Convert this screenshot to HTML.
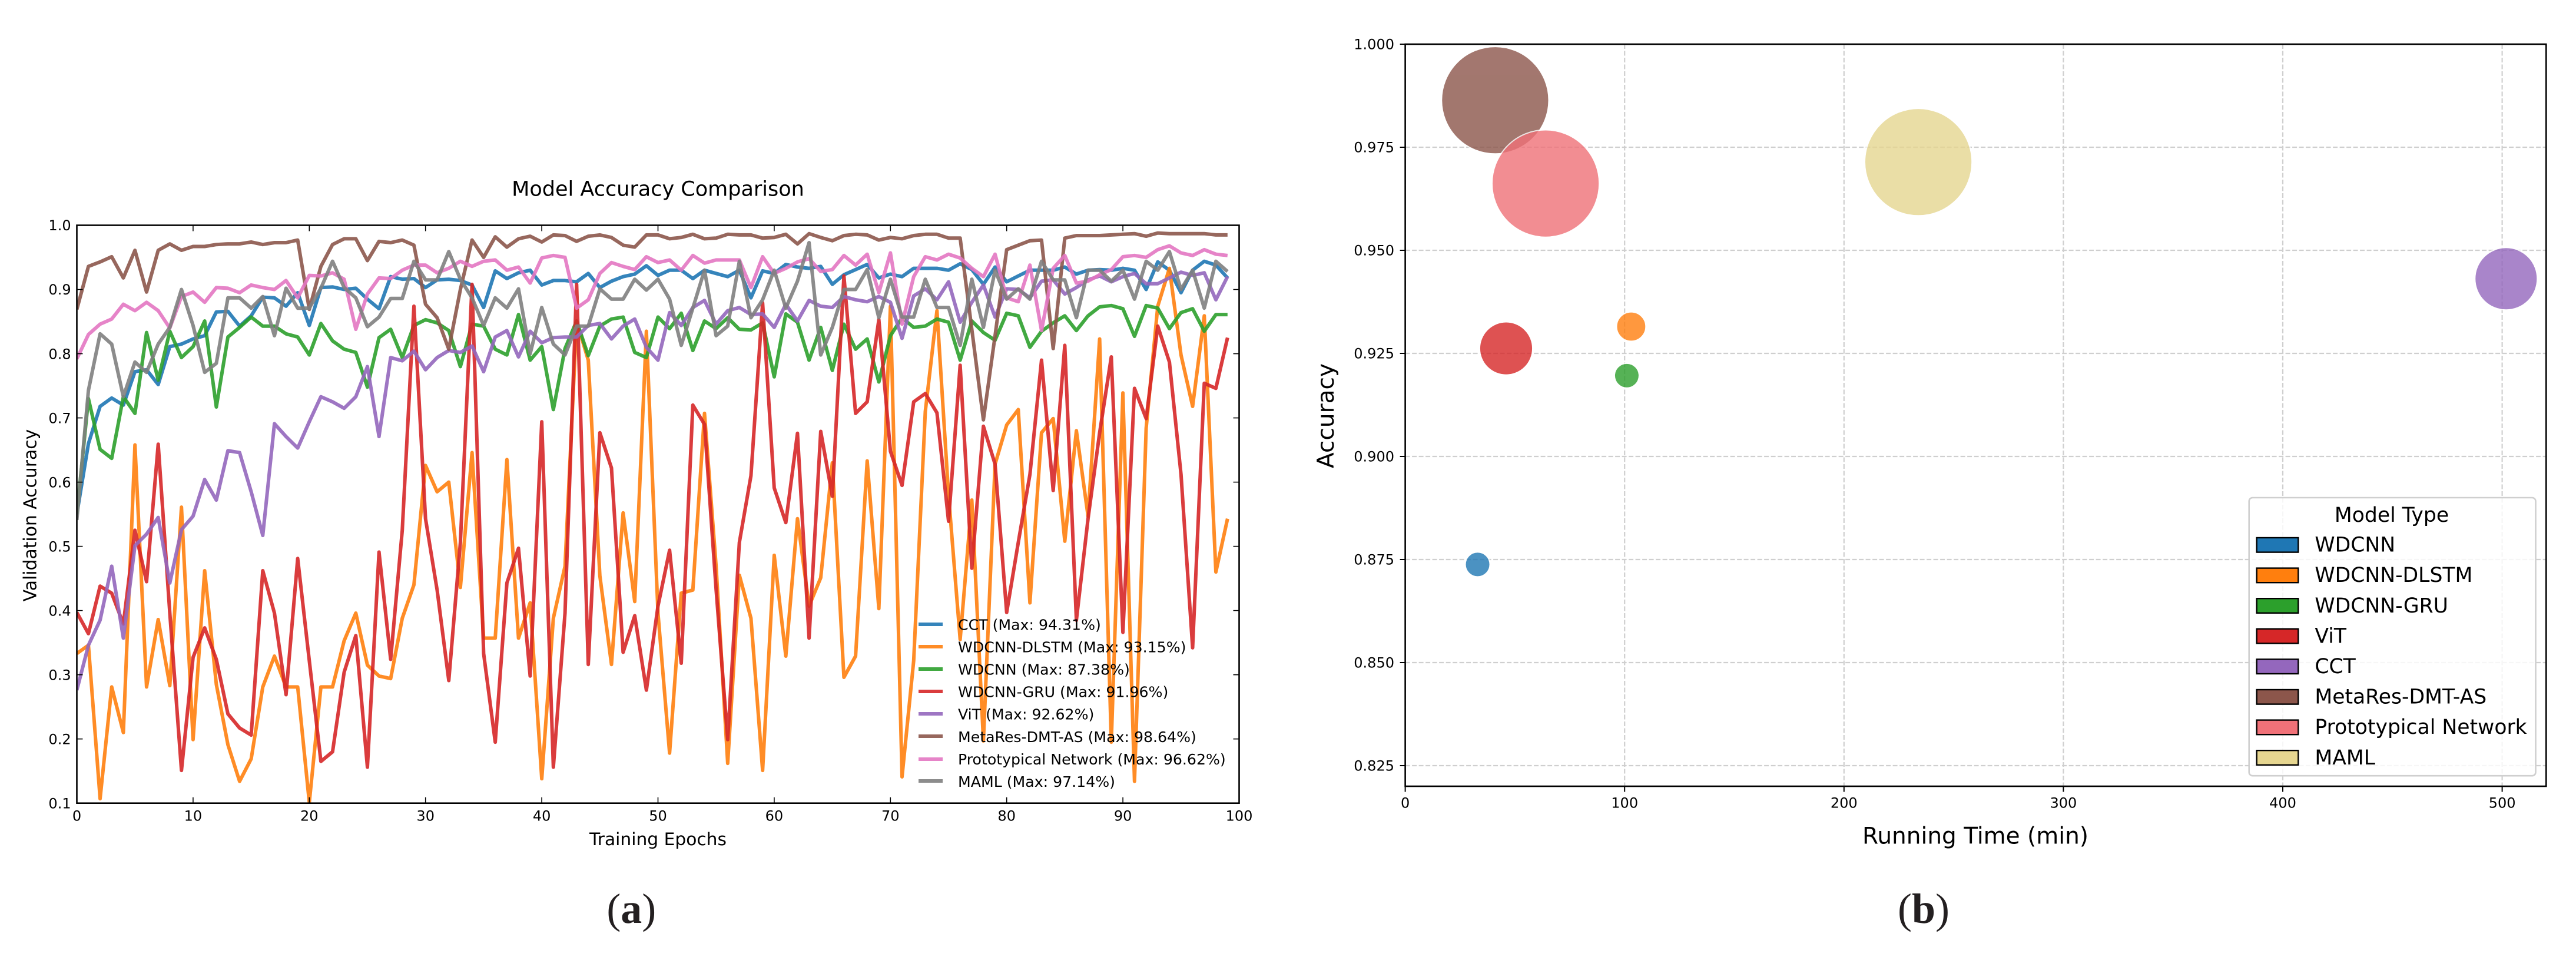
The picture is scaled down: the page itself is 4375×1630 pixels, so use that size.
<!DOCTYPE html>
<html lang="en">
<head>
<meta charset="utf-8">
<title>Model Accuracy Comparison and Running Time</title>
<style>
html,body{margin:0;padding:0;background:#fff;}
svg{display:block;font-family:"DejaVu Sans","Liberation Sans",sans-serif;}
</style>
</head>
<body>
<svg id="fig" xmlns="http://www.w3.org/2000/svg" width="4375" height="1630" viewBox="0 0 4375 1630">
  <rect x="0" y="0" width="4375" height="1630" fill="#fff"/>
  <defs>
    <clipPath id="clipL"><rect x="130.5" y="382.5" width="1974" height="981.2"/></clipPath>
    <clipPath id="clipR"><rect x="2386.6" y="75" width="1937.7" height="1260"/></clipPath>
  </defs>

  <!-- Panel A -->
  <g id="panelA">
    <g id="linesL" clip-path="url(#clipL)"></g>
    <g id="ticksL"></g>
    <rect x="130.5" y="382.5" width="1974" height="981.2" fill="none" stroke="#000" stroke-width="2.6"/>
    <text x="1117.5" y="332.5" font-size="35" text-anchor="middle">Model Accuracy Comparison</text>
    <text x="1117.5" y="1435" font-size="29.7" text-anchor="middle">Training Epochs</text>
    <text transform="translate(61.5,875) rotate(-90)" font-size="29.8" text-anchor="middle">Validation Accuracy</text>
    <g font-size="25.2">
      <g><line x1="1560" x2="1601" y1="1060" y2="1060" stroke="#1f77b4" stroke-opacity=".9" stroke-width="6"/><text x="1627" y="1069.3">CCT (Max: 94.31%)</text></g>
      <g><line x1="1560" x2="1601" y1="1098" y2="1098" stroke="#ff7f0e" stroke-opacity=".9" stroke-width="6"/><text x="1627" y="1107.4">WDCNN-DLSTM (Max: 93.15%)</text></g>
      <g><line x1="1560" x2="1601" y1="1136" y2="1136" stroke="#2ca02c" stroke-opacity=".9" stroke-width="6"/><text x="1627" y="1145.5">WDCNN (Max: 87.38%)</text></g>
      <g><line x1="1560" x2="1601" y1="1174" y2="1174" stroke="#d62728" stroke-opacity=".9" stroke-width="6"/><text x="1627" y="1183.6">WDCNN-GRU (Max: 91.96%)</text></g>
      <g><line x1="1560" x2="1601" y1="1212" y2="1212" stroke="#9467bd" stroke-opacity=".9" stroke-width="6"/><text x="1627" y="1221.7">ViT (Max: 92.62%)</text></g>
      <g><line x1="1560" x2="1601" y1="1250" y2="1250" stroke="#8c564b" stroke-opacity=".9" stroke-width="6"/><text x="1627" y="1259.8">MetaRes-DMT-AS (Max: 98.64%)</text></g>
      <g><line x1="1560" x2="1601" y1="1289" y2="1289" stroke="#e377c2" stroke-opacity=".9" stroke-width="6"/><text x="1627" y="1297.9">Prototypical Network (Max: 96.62%)</text></g>
      <g><line x1="1560" x2="1601" y1="1326" y2="1326" stroke="#7f7f7f" stroke-opacity=".9" stroke-width="6"/><text x="1627" y="1336">MAML (Max: 97.14%)</text></g>
    </g>
  </g>
  <text x="1072.3" y="1567" font-family="'Liberation Serif',serif" font-size="72" text-anchor="middle" fill="#231f20">(<tspan font-weight="bold">a</tspan>)</text>

  <!-- Panel B -->
  <g id="panelB">
    <g id="gridR"></g>
    <g id="bubbles" clip-path="url(#clipR)"></g>
    <g id="ticksR"></g>
    <rect x="2386.6" y="75" width="1937.7" height="1260" fill="none" stroke="#000" stroke-width="2.6"/>
    <text x="3355" y="1432.6" font-size="39" text-anchor="middle">Running Time (min)</text>
    <text transform="translate(2265,706) rotate(-90)" font-size="39" text-anchor="middle">Accuracy</text>
    <g font-size="34.6">
      <rect x="3819.7" y="845" width="486.8" height="472.2" rx="6" fill="#fff" fill-opacity=".8" stroke="#cfcfcf" stroke-width="2.6"/>
      <text x="4062" y="885.8" text-anchor="middle">Model Type</text>
      <g><rect x="3832.7" y="913" width="70.6" height="24.6" fill="#1f77b4" stroke="#000" stroke-width="2.4"/><text x="3931.4" y="936.6">WDCNN</text></g>
      <g><rect x="3832.7" y="964.6" width="70.6" height="24.6" fill="#ff7f0e" stroke="#000" stroke-width="2.4"/><text x="3931.4" y="988.2">WDCNN-DLSTM</text></g>
      <g><rect x="3832.7" y="1016.2" width="70.6" height="24.6" fill="#2ca02c" stroke="#000" stroke-width="2.4"/><text x="3931.4" y="1039.8">WDCNN-GRU</text></g>
      <g><rect x="3832.7" y="1067.8" width="70.6" height="24.6" fill="#d62728" stroke="#000" stroke-width="2.4"/><text x="3931.4" y="1091.4">ViT</text></g>
      <g><rect x="3832.7" y="1119.4" width="70.6" height="24.6" fill="#9467bd" stroke="#000" stroke-width="2.4"/><text x="3931.4" y="1143">CCT</text></g>
      <g><rect x="3832.7" y="1171" width="70.6" height="24.6" fill="#8c564b" stroke="#000" stroke-width="2.4"/><text x="3931.4" y="1194.6">MetaRes-DMT-AS</text></g>
      <g><rect x="3832.7" y="1222.6" width="70.6" height="24.6" fill="#f07178" stroke="#000" stroke-width="2.4"/><text x="3931.4" y="1246.2">Prototypical Network</text></g>
      <g><rect x="3832.7" y="1274.2" width="70.6" height="24.6" fill="#e6d690" stroke="#000" stroke-width="2.4"/><text x="3931.4" y="1297.8">MAML</text></g>
    </g>
  </g>
  <text x="3267" y="1567" font-family="'Liberation Serif',serif" font-size="72" text-anchor="middle" fill="#231f20">(<tspan font-weight="bold">b</tspan>)</text>
</svg>

<script>
// ---- Panel A data: validation accuracy per epoch (index = epoch) ----
const cctAcc = [
.550,.660,.718,.731,.720,.772,.775,.752,.811,.815,
.823,.828,.865,.866,.843,.859,.888,.887,.874,.895,
.844,.903,.904,.900,.902,.885,.870,.920,.916,.917,
.903,.915,.916,.914,.907,.872,.929,.917,.926,.930,
.907,.914,.914,.912,.925,.903,.913,.920,.924,.937,
.922,.930,.930,.917,.930,.925,.920,.930,.887,.929,
.925,.939,.935,.933,.936,.908,.923,.931,.939,.918,
.924,.920,.933,.933,.933,.930,.940,.931,.908,.935,
.912,.921,.930,.930,.930,.935,.924,.930,.931,.930,
.933,.930,.900,.943,.930,.895,.930,.944,.938,.918];
const dlstmAcc = [
.333,.346,.107,.281,.210,.658,.281,.386,.283,.561,
.199,.462,.285,.191,.134,.169,.281,.329,.281,.281,
.101,.281,.281,.353,.396,.315,.298,.294,.388,.440,
.626,.585,.600,.436,.646,.357,.357,.635,.357,.412,
.138,.388,.469,.851,.790,.454,.316,.552,.414,.835,
.396,.178,.427,.432,.707,.469,.162,.455,.388,.151,
.486,.329,.543,.407,.451,.630,.296,.329,.633,.403,
.874,.141,.322,.710,.867,.580,.355,.572,.197,.628,
.689,.713,.412,.677,.699,.508,.680,.547,.823,.195,
.739,.134,.684,.874,.933,.798,.718,.859,.460,.543];
const wdcnnAcc = [
.550,.730,.651,.637,.733,.707,.833,.759,.835,.794,
.811,.851,.717,.826,.841,.857,.843,.843,.831,.826,
.798,.847,.820,.807,.802,.748,.825,.838,.794,.844,
.853,.848,.836,.780,.846,.843,.807,.798,.861,.790,
.811,.713,.808,.851,.797,.843,.854,.857,.802,.794,
.857,.839,.863,.805,.851,.839,.856,.838,.837,.848,
.764,.862,.849,.790,.841,.774,.846,.807,.823,.756,
.828,.856,.841,.843,.854,.849,.790,.851,.833,.821,
.863,.859,.810,.835,.848,.859,.836,.859,.873,.875,
.870,.827,.875,.871,.839,.864,.870,.835,.861,.861];
const gruAcc = [
.397,.364,.438,.427,.379,.525,.445,.659,.396,.151,
.327,.373,.324,.239,.217,.206,.462,.396,.269,.481,
.322,.165,.180,.304,.361,.156,.491,.324,.525,.874,
.543,.432,.291,.506,.908,.333,.195,.443,.497,.298,
.694,.156,.396,.908,.316,.677,.622,.335,.392,.276,
.407,.494,.318,.720,.690,.433,.199,.506,.610,.879,
.591,.537,.676,.357,.679,.578,.921,.707,.725,.853,
.648,.595,.725,.738,.708,.539,.782,.466,.687,.628,
.397,.506,.612,.790,.587,.813,.385,.543,.677,.795,
.366,.746,.699,.843,.787,.612,.342,.754,.746,.825];
const vitAcc = [
.276,.346,.385,.469,.357,.501,.519,.545,.443,.526,
.547,.604,.572,.649,.646,.585,.517,.691,.671,.653,
.694,.733,.725,.715,.733,.780,.671,.794,.789,.804,
.775,.794,.805,.802,.812,.772,.826,.836,.795,.835,
.817,.825,.826,.826,.844,.847,.823,.843,.854,.810,
.790,.864,.844,.872,.883,.846,.867,.872,.861,.862,
.841,.877,.851,.883,.874,.872,.889,.884,.881,.889,
.880,.824,.890,.901,.884,.912,.849,.880,.907,.857,
.901,.900,.887,.913,.915,.893,.903,.915,.921,.912,
.920,.925,.909,.909,.918,.927,.922,.926,.884,.920];
const metaresAcc = [
.869,.936,.943,.951,.918,.961,.896,.961,.971,.961,
.967,.967,.970,.971,.971,.974,.970,.973,.973,.977,
.869,.936,.970,.979,.979,.945,.975,.973,.977,.969,
.877,.856,.807,.900,.977,.950,.982,.966,.979,.983,
.974,.985,.984,.975,.983,.985,.981,.969,.966,.985,
.985,.979,.981,.986,.979,.980,.986,.985,.985,.980,
.981,.986,.971,.987,.981,.976,.984,.986,.985,.977,
.981,.979,.984,.986,.986,.980,.980,.838,.697,.828,
.962,.969,.976,.977,.808,.980,.984,.984,.984,.985,
.986,.987,.983,.988,.987,.987,.987,.987,.985,.985];
const protoAcc = [
.792,.830,.846,.854,.877,.867,.880,.867,.840,.889,
.896,.880,.903,.902,.895,.907,.903,.900,.914,.887,
.922,.921,.926,.916,.838,.893,.918,.917,.930,.938,
.938,.926,.933,.944,.936,.944,.946,.930,.935,.910,
.949,.953,.950,.871,.884,.925,.942,.936,.931,.951,
.942,.946,.930,.953,.941,.946,.946,.946,.903,.951,
.925,.933,.943,.948,.928,.931,.953,.938,.955,.895,
.957,.846,.920,.951,.946,.955,.949,.933,.920,.955,
.887,.881,.938,.836,.933,.953,.910,.913,.923,.931,
.951,.953,.950,.962,.968,.957,.953,.962,.955,.953];
const mamlAcc = [
.541,.743,.831,.815,.733,.787,.771,.815,.841,.900,
.844,.771,.785,.887,.887,.871,.889,.828,.902,.871,
.871,.902,.944,.903,.887,.842,.857,.886,.886,.944,
.915,.915,.959,.916,.887,.844,.887,.871,.901,.800,
.872,.815,.798,.843,.843,.901,.885,.885,.916,.899,
.916,.885,.813,.871,.930,.828,.843,.944,.856,.884,
.930,.871,.913,.973,.798,.841,.900,.900,.931,.856,
.916,.857,.857,.916,.872,.872,.813,.916,.841,.930,
.885,.901,.885,.944,.915,.915,.856,.930,.930,.913,
.930,.885,.944,.930,.959,.900,.930,.871,.944,.928];
const lineSeriesNames = ["cct","wdcnn-dlstm","wdcnn","wdcnn-gru","vit","metares-dmt-as","prototypical-network","maml"];
const lineSeriesColors = ["#1f77b4","#ff7f0e","#2ca02c","#d62728","#9467bd","#8c564b","#e377c2","#7f7f7f"];
const lineSeries = [cctAcc,dlstmAcc,wdcnnAcc,gruAcc,vitAcc,metaresAcc,protoAcc,mamlAcc];
const epochTicks = [0,10,20,30,40,50,60,70,80,90,100];
const epochTickLabels = ["0","10","20","30","40","50","60","70","80","90","100"];
const accTicks = [0.1,0.2,0.3,0.4,0.5,0.6,0.7,0.8,0.9,1.0];
const accTickLabels = ["0.1","0.2","0.3","0.4","0.5","0.6","0.7","0.8","0.9","1.0"];

// ---- Panel B data ----
const modelNames = ["wdcnn","wdcnn-dlstm","wdcnn-gru","vit","cct","metares-dmt-as","prototypical-network","maml"];
const modelRuntime = [33,103,101,46,501.8,41,64,233.9];
const modelAccuracy = [0.8738,0.9315,0.9196,0.9262,0.9431,0.9864,0.9662,0.9714];
const modelSize = [44,62,44,203,281,830,830,830];
const modelColors = ["#1f77b4","#ff7f0e","#2ca02c","#d62728","#9467bd","#8c564b","#f07178","#e6d690"];
const runtimeTicks = [0,100,200,300,400,500];
const runtimeTickLabels = ["0","100","200","300","400","500"];
const accuracyTicks = [0.825,0.85,0.875,0.9,0.925,0.95,0.975,1.0];
const accuracyTickLabels = ["0.825","0.850","0.875","0.900","0.925","0.950","0.975","1.000"];

const NS = "http://www.w3.org/2000/svg";
function mk(tag, attrs, parent){
  const el = document.createElementNS(NS, tag);
  for (const k in attrs) el.setAttribute(k, attrs[k]);
  parent.appendChild(el);
  return el;
}
// axis functions
function xL(e){ return 130.5 + 19.74 * e; }
function yL(v){ return 1363.7 - (v - 0.1) * 1090.2; }
function xR(t){ return 2386.6 + 3.726 * t; }
function yR(a){ return 75 + (1 - a) * 7000; }

// Panel A lines
const linesL = document.getElementById("linesL");
lineSeries.forEach(function(vals, i){
  const pts = vals.map(function(v, e){ return xL(e).toFixed(1) + "," + yL(v).toFixed(1); }).join(" ");
  const line = mk("polyline", {points: pts, fill: "none", stroke: lineSeriesColors[i], "stroke-opacity": 0.9, "stroke-width": 6, "stroke-linejoin": "round", "stroke-linecap": "butt"}, linesL);
  
  
});

// Panel A ticks (inward, all four sides)
const ticksL = document.getElementById("ticksL");
epochTicks.forEach(function(t, i){
  const x = xL(t);
  const g = mk("g", {stroke: "#000", "stroke-width": 1.6}, ticksL);
  
  
  mk("line", {x1: x, x2: x, y1: 1363.7, y2: 1353.7}, g);
  mk("line", {x1: x, x2: x, y1: 382.5, y2: 392.5}, g);
  const lab = mk("text", {x: x, y: 1393.3, "font-size": 24, "text-anchor": "middle"}, ticksL);
  lab.textContent = epochTickLabels[i];
  
  
});
accTicks.forEach(function(t, i){
  const y = yL(t);
  const g = mk("g", {stroke: "#000", "stroke-width": 1.6}, ticksL);
  
  
  mk("line", {x1: 130.5, x2: 140.5, y1: y, y2: y}, g);
  mk("line", {x1: 2104.5, x2: 2094.5, y1: y, y2: y}, g);
  const lab = mk("text", {x: 120.6, y: y + 8.7, "font-size": 24, "text-anchor": "end"}, ticksL);
  lab.textContent = accTickLabels[i];
  
  
});

// Panel B grid and ticks
const gridR = document.getElementById("gridR");
const ticksR = document.getElementById("ticksR");
runtimeTicks.forEach(function(t, i){
  const x = xR(t);
  const gl = mk("line", {x1: x, x2: x, y1: 75, y2: 1335, stroke: "#cfcfcf", "stroke-width": 2.2, "stroke-dasharray": "8 3.5"}, gridR);
  
  
  const tk = mk("line", {x1: x, x2: x, y1: 1335, y2: 1344.5, stroke: "#000", "stroke-width": 2}, ticksR);
  
  
  const lab = mk("text", {x: x, y: 1371.7, "font-size": 24, "text-anchor": "middle"}, ticksR);
  lab.textContent = runtimeTickLabels[i];
  
  
});
accuracyTicks.forEach(function(t, i){
  const y = yR(t);
  const gl = mk("line", {x1: 2386.6, x2: 4324.3, y1: y, y2: y, stroke: "#cfcfcf", "stroke-width": 2.2, "stroke-dasharray": "8 3.5"}, gridR);
  
  
  const tk = mk("line", {x1: 2377.6, x2: 2386.6, y1: y, y2: y, stroke: "#000", "stroke-width": 2}, ticksR);
  
  
  const lab = mk("text", {x: 2368, y: y + 8.7, "font-size": 24, "text-anchor": "end"}, ticksR);
  lab.textContent = accuracyTickLabels[i];
  
  
});

// Panel B bubbles
const bubbles = document.getElementById("bubbles");
modelNames.forEach(function(name, i){
  const r = Math.sqrt(modelSize[i] * 10);
  const c = mk("circle", {cx: xR(modelRuntime[i]), cy: yR(modelAccuracy[i]), r: r, fill: modelColors[i], stroke: "#fff", "stroke-width": 2, opacity: 0.8}, bubbles);
  
  
});
</script>
</body>
</html>
